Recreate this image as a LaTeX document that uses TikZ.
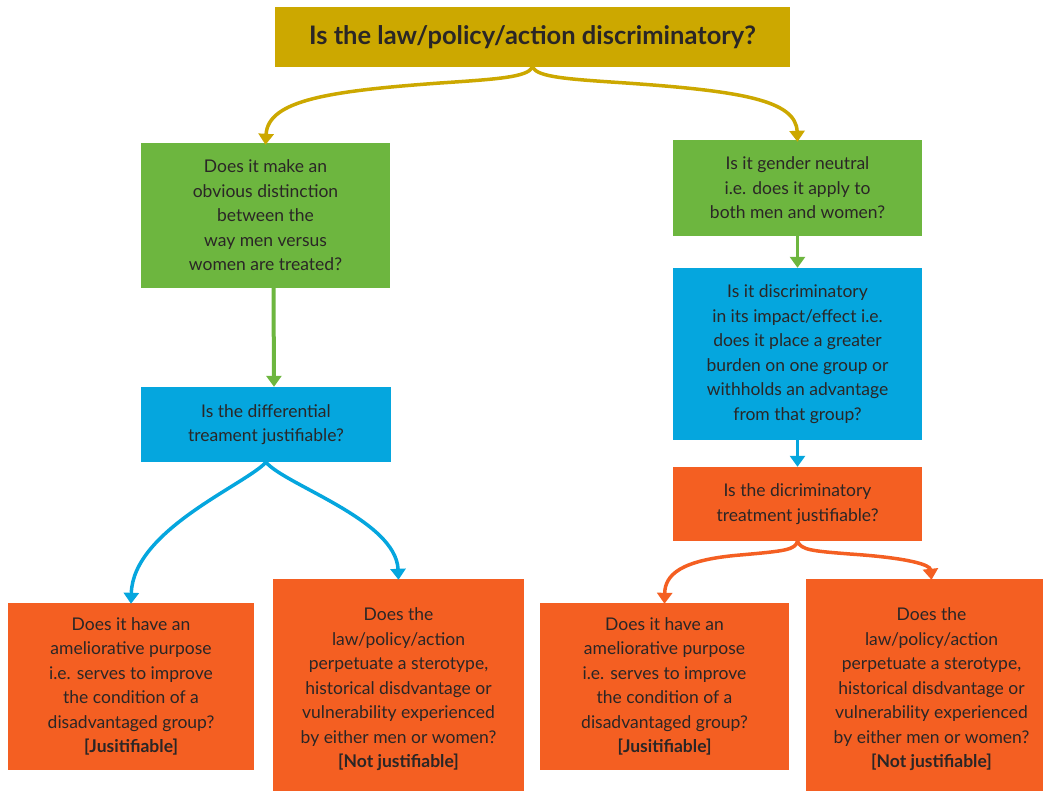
\documentclass[tikz,border=0pt]{standalone}
\usepackage{fontspec}
\setmainfont{Lato}
\usetikzlibrary{arrows.meta,calc}
\definecolor{cgold}{HTML}{CCA800}
\definecolor{cgreen}{HTML}{6DB63F}
\definecolor{cblue}{HTML}{05A6DE}
\definecolor{corange}{HTML}{F45F22}
\definecolor{ctext}{HTML}{2A2626}
\tikzset{
  box/.style={draw=none, inner sep=0pt, align=center, text=ctext,
    font=\fontsize{17.5}{24.5}\selectfont},
  conn/.style={line width=3.5pt, -{Triangle[width=15pt,length=11pt]}},
}
\begin{document}
\begin{tikzpicture}[x=1pt,y=-1pt]
\useasboundingbox (0,0) rectangle (1043,790);
\clip (0,0) rectangle (1043,790);
% boxes (pixel coords, y down)
\node[box, fill=cgold, minimum width=515pt, minimum height=60pt,
  font=\fontsize{25.5}{30}\selectfont\bfseries] (top) at (532.5,37) {Is the law/policy/action discriminatory?};
\node[box, fill=cgreen, minimum width=249pt, minimum height=145pt] (g1) at (265.5,215.5)
  {Does it make an\\obvious distinction\\between the\\way men versus\\women are treated?};
\node[box, fill=cgreen, minimum width=249pt, minimum height=96pt] (g2) at (797.5,188)
  {Is it gender neutral\\i.e. does it apply to\\both men and women?};
\node[box, fill=cblue, minimum width=249pt, minimum height=172pt] (b2) at (797.5,354)
  {Is it discriminatory\\in its impact/effect i.e.\\does it place a greater\\burden on one group or\\withholds an advantage\\from that group?};
\node[box, fill=cblue, minimum width=250pt, minimum height=75pt] (b1) at (266,424.5)
  {Is the differential\\treament justifiable?};
\node[box, fill=corange, minimum width=249pt, minimum height=74pt] (o1) at (797.5,504)
  {Is the dicriminatory\\treatment justifiable?};
\node[box, fill=corange, minimum width=246pt, minimum height=167pt] (bl1) at (131,686.5)
  {Does it have an\\ameliorative purpose\\i.e. serves to improve\\the condition of a\\disadvantaged group?\\\textbf{[Jusitifiable]}};
\node[box, fill=corange, minimum width=251pt, minimum height=221pt] (bl2) at (398.5,689.5)
  {Does the\\law/policy/action\\perpetuate a sterotype,\\historical disdvantage or\\vulnerability experienced\\by either men or women?\\\textbf{[Not justifiable]}};
\node[box, fill=corange, minimum width=249pt, minimum height=167pt] (br1) at (664.5,686.5)
  {Does it have an\\ameliorative purpose\\i.e. serves to improve\\the condition of a\\disadvantaged group?\\\textbf{[Jusitifiable]}};
\node[box, fill=corange, minimum width=251pt, minimum height=221pt] (br2) at (931.5,689.5)
  {Does the\\law/policy/action\\perpetuate a sterotype,\\historical disdvantage or\\vulnerability experienced\\by either men or women?\\\textbf{[Not justifiable]}};
% connectors
\draw[conn, cgold] (top.south) .. controls (527,77) and (500,79) .. (440,83)
  .. controls (330,91) and (268,100) .. ([yshift=-2pt]g1.north);
\draw[conn, cgold] (top.south) .. controls (538,77) and (565,79) .. (626,83)
  .. controls (740,91) and (796,100) .. ([yshift=-2pt]g2.north);
\draw[conn, cgreen, line width=4pt] ([xshift=8pt]g1.south) -- ([xshift=8pt]b1.north);
\draw[conn, cgreen] (g2.south) -- (b2.north);
\draw[conn, cblue] (b2.south) -- (o1.north);
\draw[conn, cblue] (b1.south) .. controls (245,485) and (133,530) .. ([yshift=-1pt]bl1.north);
\draw[conn, cblue] (b1.south) .. controls (285,485) and (396,520) .. ([yshift=-1pt]bl2.north);
\draw[conn, corange] (o1.south) .. controls (795,550) and (785,551) .. (740,555)
  .. controls (680,560) and (665,575) .. ([yshift=-1pt]br1.north);
\draw[conn, corange] (o1.south) .. controls (801,550) and (812,551) .. (850,554)
  .. controls (910,558) and (930,565) .. ([yshift=-1pt]br2.north);
\end{tikzpicture}
\end{document}
